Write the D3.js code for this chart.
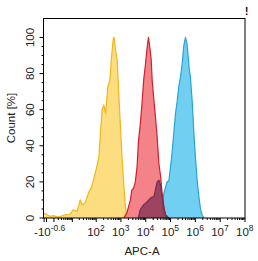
<!DOCTYPE html>
<html lang="en">
<head>
  <meta charset="UTF-8">
  <title>APC-A histogram</title>
  <script src="https://d3js.org/d3.v7.min.js"></script>
  <style>
    body { margin: 0; background: #ffffff; }
    text { font-family: "Liberation Sans", Arial, sans-serif; fill: #222; }
    .hist { stroke-width: 1.2; stroke-linejoin: round; }
  </style>
</head>
<body>
<svg width="258" height="261"></svg>

<script>
  // APC-A intensities (raw) and counts [%] per histogram
  const yellowX = [-0.24, 0.04, 0.4, 0.9, 2, 4.6, 8, 11, 16, 22, 26, 35, 48, 66, 77, 106, 129, 148, 174, 204, 240, 295, 355, 417, 490, 537, 603, 708, 813, 955, 1122, 1318, 1514, 1778];
  const yellowCount = [2.8, 1.8, 0.9, 1.3, 0.5, 1.8, 2.2, 4.6, 3.7, 10, 7.4, 8.3, 13.8, 17.5, 21, 28.5, 34, 47, 60, 62.6, 58, 72.7, 76, 89, 99.4, 100, 93, 87.5, 69, 50.6, 32, 17.5, 6.4, 0];

  // log10(APC-A)
  const redLog = [3.11, 3.24, 3.38, 3.44, 3.51, 3.58, 3.65, 3.71, 3.78, 3.85, 3.92, 3.98, 4.06, 4.11, 4.16, 4.22, 4.26, 4.33, 4.39, 4.46, 4.53, 4.6, 4.66, 4.73, 4.8, 4.87];
  const redCount = [0, 2.8, 10, 15.6, 16.5, 20, 28.5, 43, 52, 63.5, 77, 84, 95, 100, 95, 87.5, 76, 65, 56, 45, 30, 23, 13.8, 6.4, 1, 0];

  const maroonLog = [3.7, 3.78, 3.92, 4.06, 4.19, 4.33, 4.39, 4.46, 4.53, 4.6, 4.66, 4.73, 4.8, 4.93];
  const maroonCount = [0, 4.6, 7.4, 9, 11, 12, 15.6, 20, 21, 18, 12, 5.5, 1.8, 0];

  const blueLog = [4.62, 4.73, 4.86, 4.93, 5.0, 5.06, 5.13, 5.2, 5.27, 5.33, 5.4, 5.47, 5.53, 5.6, 5.67, 5.74, 5.8, 5.87, 5.94, 6.0, 6.07, 6.14, 6.21, 6.27, 6.34];
  const blueCount = [0, 13.8, 20, 20.5, 28.5, 36, 47, 58, 65, 72.7, 78, 85.6, 95, 100, 96, 84, 78, 65, 47, 34, 21, 12, 4.6, 1.8, 0];

  const xTickExp = [2, 3, 4, 5, 6, 7, 8];
  const yTicks = [0, 20, 40, 60, 80, 100];

  const svg = d3.select("svg");
  const m = { left: 43.5, right: 245, top: 18.5, bottom: 218 };

  const x = d3.scaleSymlog().constant(1).domain([-0.32, 1e8]).range([m.left, m.right]);
  const y = d3.scaleLinear().domain([0, 110.5]).range([m.bottom, m.top]);

  function pts(xs, counts) {
    return xs.map((v, i) => [v, counts[i]]);
  }
  const pow10 = e => Math.pow(10, e);
  const series = [
    { data: pts(yellowX, yellowCount), fill: "#fbd76a", stroke: "#f0b61c", op: 0.85 },
    { data: pts(blueLog.map(pow10), blueCount), fill: "#62cbf1", stroke: "#26a5d4", op: 0.9 },
    { data: pts(redLog.map(pow10), redCount), fill: "#f26d74", stroke: "#d1202c", op: 0.85 },
    { data: pts(maroonLog.map(pow10), maroonCount), fill: "#7a2c50", stroke: "#7a2c50", op: 0.72 }
  ];

  const area = d3.area()
    .x(d => x(d[0]))
    .y0(y(0))
    .y1(d => y(d[1]));
  const line = d3.line()
    .x(d => x(d[0]))
    .y(d => y(d[1]));

  const plot = svg.append("g");
  series.forEach(s => {
    plot.append("path")
      .attr("d", area(s.data))
      .attr("fill", s.fill)
      .attr("fill-opacity", s.op);
    plot.append("path")
      .attr("class", "hist")
      .attr("d", line(s.data))
      .attr("fill", "none")
      .attr("stroke", s.stroke);
  });

  // frame
  svg.append("rect")
    .attr("x", m.left).attr("y", m.top)
    .attr("width", m.right - m.left).attr("height", m.bottom - m.top)
    .attr("fill", "none").attr("stroke", "#000").attr("stroke-width", 1);

  // x ticks (major + minor)
  const minor = [];
  for (let k = 0; k < 8; k++) {
    for (let j = 2; j <= 9; j++) minor.push(j * Math.pow(10, k));
  }
  svg.append("g").selectAll("line.minor")
    .data(minor)
    .join("line")
    .attr("x1", d => x(d)).attr("x2", d => x(d))
    .attr("y1", m.bottom).attr("y2", m.bottom + 2)
    .attr("stroke", "#000");
  const major = [-0.25, 0, 1, 10].concat(xTickExp.map(pow10));
  svg.append("g").selectAll("line.major")
    .data(major)
    .join("line")
    .attr("x1", d => x(d)).attr("x2", d => x(d))
    .attr("y1", m.bottom).attr("y2", m.bottom + 4)
    .attr("stroke", "#000");

  const xl = svg.append("g").attr("font-size", 11.5);
  const neg = xl.append("text")
    .attr("x", x(-0.25) - 10).attr("y", 236);
  neg.append("tspan").text("-10");
  neg.append("tspan").attr("dy", -5).attr("font-size", 8.5).text("-0.6");
  xTickExp.forEach(e => {
    const t = xl.append("text")
      .attr("x", x(pow10(e)) - 9).attr("y", 236);
    t.append("tspan").text("10");
    t.append("tspan").attr("dy", -5).attr("font-size", 8.5).text(e);
  });

  // y ticks
  svg.append("g").selectAll("line")
    .data(d3.range(0, 101, 5))
    .join("line")
    .attr("x1", m.left).attr("x2", d => m.left - (d % 20 === 0 ? 4 : 2))
    .attr("y1", d => y(d)).attr("y2", d => y(d))
    .attr("stroke", "#000");
  svg.append("g").selectAll("text")
    .data(yTicks)
    .join("text")
    .attr("transform", d => `translate(34,${y(d)}) rotate(-90)`)
    .attr("text-anchor", "middle")
    .attr("font-size", 11.5)
    .text(d => d);

  svg.append("text")
    .attr("transform", "translate(15,118) rotate(-90)")
    .attr("text-anchor", "middle")
    .attr("font-size", 11.5)
    .text("Count [%]");

  svg.append("text")
    .attr("x", 142).attr("y", 255)
    .attr("text-anchor", "middle")
    .attr("font-size", 11.5)
    .text("APC-A");

  svg.append("text")
    .attr("x", 245).attr("y", 15)
    .attr("font-size", 10).attr("font-weight", "bold")
    .style("fill", "#000")
    .text("!");
</script>
</body>
</html>
